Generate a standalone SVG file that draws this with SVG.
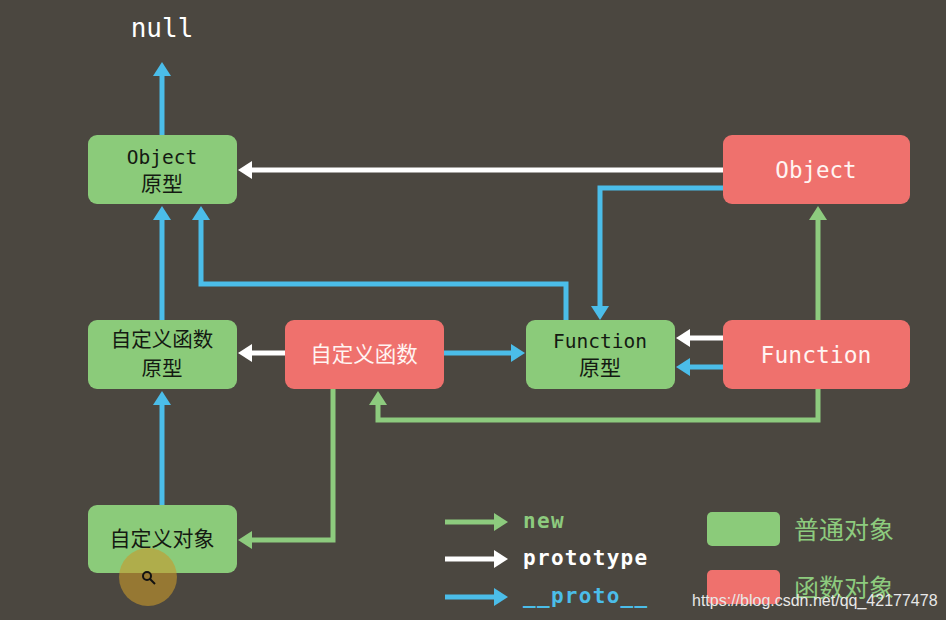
<svg xmlns="http://www.w3.org/2000/svg" width="946" height="620" viewBox="0 0 946 620">
<style>
.g{fill:#8bcb7a}
.r{fill:#ef716d}
.mono{font-family:"DejaVu Sans Mono","Liberation Mono",monospace}
.cjk{font-family:"Noto Sans CJK SC","Noto Sans",sans-serif}
.dk{fill:#141a12}
.wt{fill:#fff4f2}
.ln{fill:none;stroke-width:5;stroke-linejoin:miter}
.bl{stroke:#4bbde9}
.wh{stroke:#ffffff}
.gr{stroke:#8dcb7e}
.lg{font-size:21px;font-weight:bold;letter-spacing:1.3px}
</style>
<defs>
<marker id="mb" markerUnits="userSpaceOnUse" markerWidth="16" markerHeight="18" refX="8" refY="9" orient="auto"><path d="M0,0 L14,9 L0,18 z" fill="#4bbde9"/></marker>
<marker id="mw" markerUnits="userSpaceOnUse" markerWidth="16" markerHeight="18" refX="8" refY="9" orient="auto"><path d="M0,0 L14,9 L0,18 z" fill="#ffffff"/></marker>
<marker id="mg" markerUnits="userSpaceOnUse" markerWidth="16" markerHeight="18" refX="8" refY="9" orient="auto"><path d="M0,0 L14,9 L0,18 z" fill="#8dcb7e"/></marker>
</defs>
<rect width="946" height="620" fill="#4b4740"/>

<text x="162" y="37" text-anchor="middle" class="mono" font-size="26" fill="#ffffff">null</text>

<g id="connectors">
<path class="ln bl" d="M162,135 V68" marker-end="url(#mb)"/>
<path class="ln wh" d="M723,170 H244" marker-end="url(#mw)"/>
<path class="ln bl" d="M723,188 H600 V314" marker-end="url(#mb)"/>
<path class="ln bl" d="M566,320 V284 H201 V212" marker-end="url(#mb)"/>
<path class="ln bl" d="M162,320 V212" marker-end="url(#mb)"/>
<path class="ln wh" d="M285,353 H244" marker-end="url(#mw)"/>
<path class="ln bl" d="M444,353 H519" marker-end="url(#mb)"/>
<path class="ln wh" d="M723,338 H682" marker-end="url(#mw)"/>
<path class="ln bl" d="M723,367 H682" marker-end="url(#mb)"/>
<path class="ln gr" d="M818,389 V420 H378 V397" marker-end="url(#mg)"/>
<path class="ln gr" d="M818,320 V212" marker-end="url(#mg)" stroke-width="4"/>
<path class="ln gr" d="M333,389 V540 H244" marker-end="url(#mg)"/>
<path class="ln bl" d="M162,505 V397" marker-end="url(#mb)"/>
</g>

<g id="object-proto">
<rect class="g" x="88" y="135" width="149" height="69" rx="9"/>
<text x="162" y="164" text-anchor="middle" class="mono dk" font-size="19.5">Object</text>
<text x="162" y="191" text-anchor="middle" class="cjk dk" font-size="21">原型</text>
</g>
<g id="object-fn">
<rect class="r" x="723" y="135" width="187" height="69" rx="9"/>
<text x="816" y="178" text-anchor="middle" class="mono wt" font-size="22.5">Object</text>
</g>
<g id="custom-fn-proto">
<rect class="g" x="88" y="320" width="149" height="69" rx="9"/>
<text x="162" y="347" text-anchor="middle" class="cjk dk" font-size="20.5">自定义函数</text>
<text x="162" y="376" text-anchor="middle" class="cjk dk" font-size="20.5">原型</text>
</g>
<g id="custom-fn">
<rect class="r" x="285" y="320" width="159" height="69" rx="9"/>
<text x="364" y="362" text-anchor="middle" class="cjk wt" font-size="21.5">自定义函数</text>
</g>
<g id="function-proto">
<rect class="g" x="526" y="320" width="149" height="69" rx="9"/>
<text x="600" y="348" text-anchor="middle" class="mono dk" font-size="19.5">Function</text>
<text x="600" y="375" text-anchor="middle" class="cjk dk" font-size="21">原型</text>
</g>
<g id="function-fn">
<rect class="r" x="723" y="320" width="187" height="69" rx="9"/>
<text x="816" y="363" text-anchor="middle" class="mono wt" font-size="23">Function</text>
</g>
<g id="custom-obj">
<rect class="g" x="88" y="505" width="149" height="68" rx="9"/>
<text x="162" y="546" text-anchor="middle" class="cjk dk" font-size="21">自定义对象</text>
</g>

<g id="legend">
<path class="ln gr" d="M445,522 H502" marker-end="url(#mg)"/>
<path class="ln wh" d="M445,559 H502" marker-end="url(#mw)"/>
<path class="ln bl" d="M445,597 H502" marker-end="url(#mb)"/>
<text x="523" y="528" class="mono lg" fill="#8dcb7e">new</text>
<text x="523" y="565" class="mono lg" fill="#ffffff">prototype</text>
<text x="523" y="603" class="mono lg" fill="#4bbde9">__proto__</text>
<rect class="g" x="707" y="512" width="73" height="34" rx="5"/>
<rect class="r" x="707" y="570" width="73" height="34" rx="5"/>
<text x="794" y="539" class="cjk" font-size="25" fill="#8dcb7e">普通对象</text>
<text x="794" y="597" class="cjk" font-size="25" fill="#8dcb7e">函数对象</text>
</g>

<text x="692" y="606" font-family="Liberation Sans, Arial, sans-serif" font-size="16" fill="#e8e8e8">https://blog.csdn.net/qq_42177478</text>

<circle cx="148" cy="577" r="29" fill="#c89a2c" fill-opacity="0.6"/>
<circle cx="147" cy="576" r="4" fill="none" stroke="#111" stroke-width="2"/>
<path d="M150,579 L155,584" stroke="#111" stroke-width="2"/>
</svg>
